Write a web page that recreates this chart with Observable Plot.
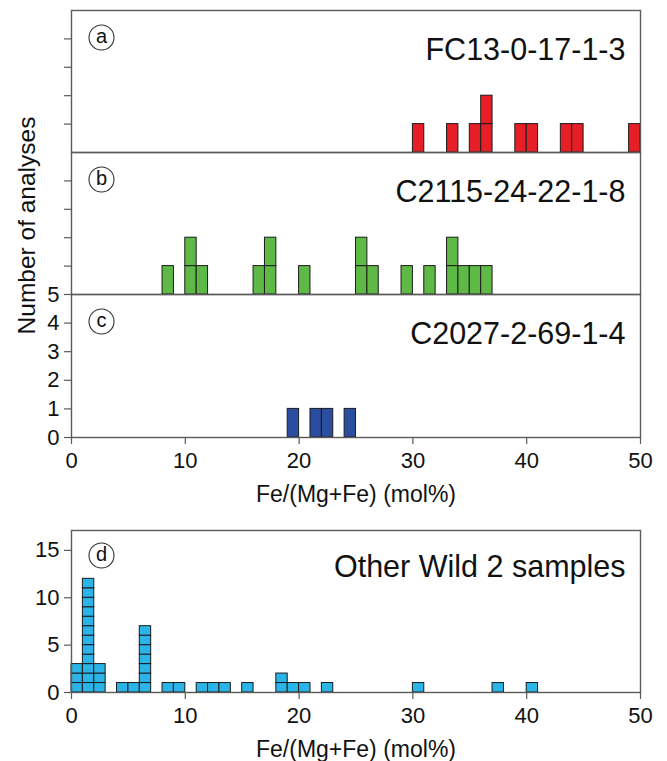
<!DOCTYPE html>
<html><head><meta charset="utf-8">
<script src="https://cdn.jsdelivr.net/npm/d3@7"></script>
<script src="https://cdn.jsdelivr.net/npm/@observablehq/plot@0.6"></script>
<style>
body{margin:0;background:#fff;}
#fig{position:relative;width:667px;height:761px;background:#fff;font-family:"Liberation Sans",Arial,Helvetica,sans-serif;}
#fig svg{position:absolute;left:0;overflow:visible;background:transparent;}
</style></head><body><div id="fig"></div>
<script>
// ---- data (bin start in mol%, number of analyses in that 1-mol% bin) ----
const aBins   = [30, 33, 35, 36, 39, 40, 43, 44, 49];
const aCounts = [ 1,  1,  1,  2,  1,  1,  1,  1,  1];
const bBins   = [8, 10, 11, 16, 17, 20, 25, 26, 29, 31, 33, 34, 35, 36];
const bCounts = [1,  2,  1,  1,  2,  1,  2,  1,  1,  1,  2,  1,  1,  1];
const cBins   = [19, 21, 22, 24];
const cCounts = [ 1,  1,  1,  1];
const dBins   = [0, 1, 2, 4, 5, 6, 8, 9, 11, 12, 13, 15, 18, 19, 20, 22, 30, 37, 40];
const dCounts = [3, 12, 3, 1, 1, 7, 1, 1, 1, 1, 1, 1, 2, 1, 1, 1, 1, 1, 1];

const panelLetters = ["a", "b", "c", "d"];
const panelTitles  = ["FC13-0-17-1-3", "C2115-24-22-1-8", "C2027-2-69-1-4", "Other Wild 2 samples"];
const panelColors  = ["#e61e25", "#5fb946", "#2a4d9f", "#2bb4e8"];
const xTicks = [0, 10, 20, 30, 40, 50];
const yTicksSmall = [0, 1, 2, 3, 4, 5];
const yTicksD = [0, 5, 10, 15];
const xLabel = "Fe/(Mg+Fe) (mol%)";
const yLabel = "Number of analyses";

const FONT = '"Liberation Sans", Arial, Helvetica, sans-serif';
const FRAME = "#5a5a5a";

function units(bins, counts) {
  const out = [];
  bins.forEach((b, i) => { for (let k = 0; k < counts[i]; k++) out.push({bin: b, k}); });
  return out;
}

const fig = document.getElementById("fig");

function panel({bins, counts, idx, top, height, mt, mb, ymax, yticks, ylabels, xaxis, extra = []}) {
  const marks = [
    Plot.rect(units(bins, counts), {
      x1: "bin", x2: d => d.bin + 1, y1: "k", y2: d => d.k + 1,
      fill: panelColors[idx], stroke: "#1c1c1c", strokeWidth: 1
    }),
    Plot.frame({stroke: FRAME, strokeWidth: 1.4}),
    Plot.axisY({ticks: yticks, tickSize: 7, tickPadding: 5, fontSize: 22, label: null,
      stroke: FRAME, strokeWidth: 1.2,
      tickFormat: ylabels ? (d => String(d)) : (() => "")}),
    Plot.dot([panelLetters[idx]], {x: null, y: null, frameAnchor: "top-left", dx: 30, dy: idx === 3 ? 25 : 27,
      r: 12.5, fill: "white", stroke: "#333", strokeWidth: 1.1}),
    Plot.text([panelLetters[idx]], {frameAnchor: "top-left", dx: 30, dy: idx === 3 ? 24 : 26,
      textAnchor: "middle", lineAnchor: "middle", fontSize: 20, fill: "#111"}),
    Plot.text([panelTitles[idx]], {frameAnchor: "top-right", dx: -15, dy: idx === 3 ? 37 : 40,
      textAnchor: "end", lineAnchor: "middle", fontSize: 30.5, fill: "#111"}),
    ...extra
  ];
  if (xaxis) {
    marks.push(Plot.axisX({ticks: xTicks, tickSize: 7, tickPadding: 8, fontSize: 22, label: null,
      stroke: FRAME, strokeWidth: 1.2}));
    marks.push(Plot.text([xLabel], {frameAnchor: "bottom", dy: 57, textAnchor: "middle",
      lineAnchor: "middle", fontSize: 23, fill: "#111"}));
  }
  const svg = Plot.plot({
    width: 667, height, marginLeft: 71, marginRight: 27, marginTop: mt, marginBottom: mb,
    style: {fontFamily: FONT, background: "transparent", overflow: "visible", color: "#111"},
    x: {domain: [0, 50], axis: null},
    y: {domain: [0, ymax], axis: null},
    marks
  });
  svg.style.top = top + "px";
  fig.appendChild(svg);
}

panel({bins: aBins, counts: aCounts, idx: 0, top: 0, height: 153, mt: 10, mb: 1, ymax: 5,
  yticks: [1, 2, 3, 4], ylabels: false, xaxis: false});
panel({bins: bBins, counts: bCounts, idx: 1, top: 151, height: 144, mt: 1, mb: 1, ymax: 5,
  yticks: [1, 2, 3, 4], ylabels: false, xaxis: false,
  extra: [Plot.text([yLabel], {frameAnchor: "left", dx: -44, dy: 2, rotate: -90,
    textAnchor: "middle", lineAnchor: "middle", fontSize: 24.5, fill: "#111"})]});
panel({bins: cBins, counts: cCounts, idx: 2, top: 293, height: 219, mt: 1, mb: 75, ymax: 5,
  yticks: yTicksSmall, ylabels: true, xaxis: true});
panel({bins: dBins, counts: dCounts, idx: 3, top: 512, height: 249, mt: 18, mb: 69, ymax: 17.1,
  yticks: yTicksD, ylabels: true, xaxis: true});
</script></body></html>
